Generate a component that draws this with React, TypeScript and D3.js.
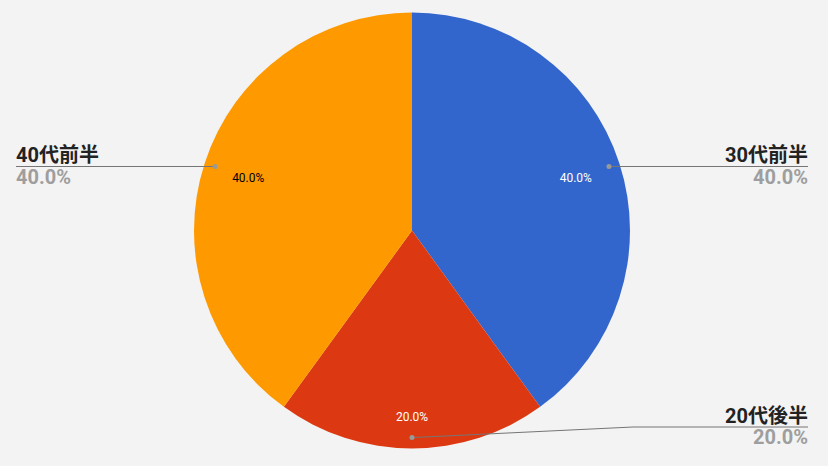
import React from "react";
import * as d3 from "d3";

const categories = ["30代前半", "20代後半", "40代前半"];
const values = [40, 20, 40];
const colors = ["#3366cc", "#dc3912", "#ff9900"];
const innerTextColors = ["#ffffff", "#ffffff", "#000000"];
const labelRadiusFrac = [0.79, 0.855, 0.79];

const W = 828;
const H = 466;
const cx = 412;
const cy = 230.5;
const R = 218;

export default function App() {
  const total = d3.sum(values);
  const pie = d3.pie<number>().sort(null).value((d) => d)(values);
  const arc = d3.arc<d3.PieArcDatum<number>>().innerRadius(0).outerRadius(R);
  const fmt = (v: number) => ((v / total) * 100).toFixed(1) + "%";

  const pt = (angle: number, r: number) => [Math.sin(angle) * r, -Math.cos(angle) * r];

  return (
    <svg width={W} height={H} style={{ position: "absolute", left: 0, top: 0, fontFamily: "Roboto, 'Noto Sans CJK JP', sans-serif" }}>
      <rect width={W} height={H} fill="#f3f3f3" />
      <g transform={`translate(${cx},${cy})`}>
        {pie.map((p, i) => (
          <path key={i} d={arc(p) || ""} fill={colors[i]} stroke="none" />
        ))}
        {pie.map((p, i) => {
          const mid = (p.startAngle + p.endAngle) / 2;
          const [x, y] = pt(mid, R * labelRadiusFrac[i]);
          return (
            <text key={i} x={x} y={y + 4.5} textAnchor="middle" fontSize={12} fill={innerTextColors[i]}>
              {fmt(p.value)}
            </text>
          );
        })}
        {pie.map((p, i) => {
          const mid = (p.startAngle + p.endAngle) / 2;
          const [dx, dy] = pt(mid, R * 0.95);
          const right = Math.sin(mid) > -0.001;
          const lineY = i === 1 ? 427 - cy : dy;
          const endX = right ? 808 - cx : 16 - cx;
          let d: string;
          if (i === 1) {
            d = `M${dx},${dy}L${633 - cx},${lineY}L${endX},${lineY}`;
          } else {
            d = `M${dx},${dy}L${endX},${lineY}`;
          }
          return (
            <g key={i}>
              <path d={d} fill="none" stroke="#757575" strokeWidth={1} />
              <circle cx={dx} cy={dy} r={2.5} fill="#999999" />
              <text x={endX} y={lineY - 4.5} textAnchor={right ? "end" : "start"} fontSize={20} fontWeight="bold" fill="#222222">
                {categories[i]}
              </text>
              <text x={endX} y={lineY + 17} textAnchor={right ? "end" : "start"} fontSize={20} fontWeight="bold" fill="#9e9e9e">
                {fmt(p.value)}
              </text>
            </g>
          );
        })}
      </g>
    </svg>
  );
}
